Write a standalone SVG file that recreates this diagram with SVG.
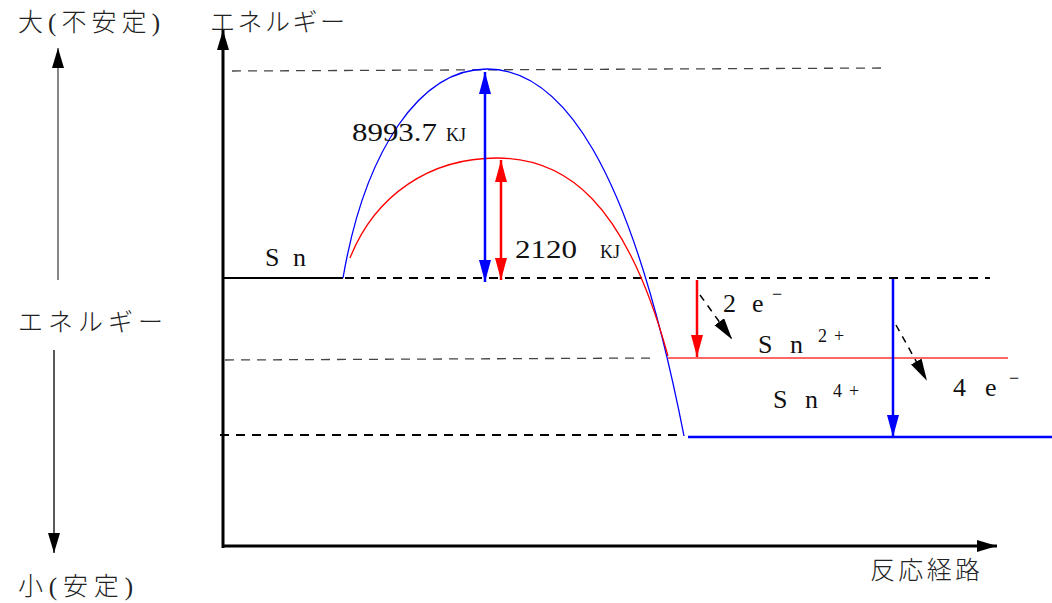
<svg xmlns="http://www.w3.org/2000/svg" width="1052" height="603" viewBox="0 0 1052 603">
<defs>
<marker id="ab2" markerWidth="22" markerHeight="14" refX="20" refY="6" orient="auto" markerUnits="userSpaceOnUse"><path d="M0,0 L20,6 L0,12 z" fill="#000"/></marker>
<marker id="blueEnd" markerWidth="22" markerHeight="14" refX="22" refY="6" orient="auto-start-reverse" markerUnits="userSpaceOnUse"><path d="M0,0 L22,6 L0,12 z" fill="#0000ff"/></marker>
<marker id="redEnd" markerWidth="22" markerHeight="14" refX="22" refY="6" orient="auto-start-reverse" markerUnits="userSpaceOnUse"><path d="M0,0 L22,6 L0,12 z" fill="#ff0000"/></marker>
<marker id="blkEnd" markerWidth="22" markerHeight="14" refX="20" refY="6" orient="auto" markerUnits="userSpaceOnUse"><path d="M0,0 L22,6 L0,12 z" fill="#000"/></marker>
</defs>
<style>
.jp{font-family:"Liberation Serif","Noto Sans CJK JP",serif;font-size:25px;font-weight:300;fill:#222}
.num{font-family:"Liberation Serif","DejaVu Serif",serif;font-size:26px;fill:#111}
.sm{font-family:"Liberation Serif",serif;font-size:18px;fill:#111}
.dash{stroke:#000;stroke-width:2;stroke-dasharray:9,7;fill:none}
.dthin{stroke:#444;stroke-width:1.3;stroke-dasharray:9,7;fill:none}
</style>
<rect width="1052" height="603" fill="#fff"/>

<g id="side-scale">
<text class="jp" x="18" y="31" textLength="142" lengthAdjust="spacing">大(不安定)</text>
<line x1="58" y1="280" x2="58" y2="48" stroke="#444" stroke-width="1.3" marker-end="url(#ab2)"/>
<text class="jp" x="18" y="331" textLength="145" lengthAdjust="spacing">エネルギー</text>
<line x1="54" y1="350" x2="54" y2="553" stroke="#000" stroke-width="1.3" marker-end="url(#ab2)"/>
<text class="jp" x="18" y="595" textLength="115" lengthAdjust="spacing">小(安定)</text>
</g>

<g id="axes">
<line x1="223" y1="548" x2="223" y2="30" stroke="#000" stroke-width="3" marker-end="url(#ab2)"/>
<text class="jp" x="210" y="31" textLength="135" lengthAdjust="spacing">エネルギー</text>
<line x1="223" y1="546" x2="997" y2="546" stroke="#000" stroke-width="3" marker-end="url(#ab2)"/>
<text class="jp" x="870" y="579" textLength="110" lengthAdjust="spacing">反応経路</text>
</g>

<g id="levels">
<line x1="232" y1="71" x2="882" y2="68" class="dthin"/>
<line x1="223" y1="278" x2="343" y2="278" stroke="#000" stroke-width="2"/>
<line x1="345" y1="278" x2="990" y2="278" class="dash"/>
<line x1="225" y1="360" x2="657" y2="358" class="dthin"/>
<line x1="220" y1="435" x2="684" y2="435" class="dash"/>
<line x1="668" y1="358" x2="1008" y2="358" stroke="#ff3333" stroke-width="1.5"/>
<line x1="688" y1="437" x2="1052" y2="437" stroke="#0000ff" stroke-width="2.5"/>
</g>

<g id="curves">
<path d="M343,278 C365,150 420,69 487,69 C560,69 630,160 684,436" fill="none" stroke="#0000ff" stroke-width="1.3"/>
<path d="M350,258 C375,195 430,158 497,158 C565,158 625,200 668,356" fill="none" stroke="#ff0000" stroke-width="1.3"/>
</g>

<g id="connectors">
<line x1="485" y1="72" x2="485" y2="282" stroke="#0000ff" stroke-width="2.5" marker-start="url(#blueEnd)" marker-end="url(#blueEnd)"/>
<line x1="501" y1="160" x2="501" y2="280" stroke="#ff0000" stroke-width="2.5" marker-start="url(#redEnd)" marker-end="url(#redEnd)"/>
<line x1="697" y1="280" x2="697" y2="357" stroke="#ff0000" stroke-width="2.5" marker-end="url(#redEnd)"/>
<line x1="893" y1="279" x2="893" y2="437" stroke="#0000ff" stroke-width="2.5" marker-end="url(#blueEnd)"/>
<line x1="700" y1="295" x2="731" y2="338" stroke="#000" stroke-width="1.5" stroke-dasharray="7,6" marker-end="url(#blkEnd)"/>
<line x1="896" y1="325" x2="926" y2="379" stroke="#000" stroke-width="1.5" stroke-dasharray="7,6" marker-end="url(#blkEnd)"/>
</g>

<g id="labels">
<text class="num" x="352" y="141" textLength="85" lengthAdjust="spacingAndGlyphs">8993.7</text>
<text class="sm" x="446" y="141">KJ</text>
<text class="num" x="515" y="258" textLength="62" lengthAdjust="spacingAndGlyphs">2120</text>
<text class="sm" x="600" y="258">KJ</text>
<text class="num" x="265" y="266">S</text><text class="num" x="293" y="266">n</text>
<text class="num" x="723" y="312">2</text><text class="num" x="752" y="312">e</text><text class="sm" x="772" y="300">−</text>
<text class="num" x="758" y="353">S</text><text class="num" x="790" y="353">n</text><text class="sm" x="818" y="342">2</text><text class="sm" x="834" y="342">+</text>
<text class="num" x="773" y="408">S</text><text class="num" x="805" y="408">n</text><text class="sm" x="833" y="397">4</text><text class="sm" x="849" y="397">+</text>
<text class="num" x="953" y="396">4</text><text class="num" x="985" y="396">e</text><text class="sm" x="1009" y="384">−</text>
</g>
</svg>
